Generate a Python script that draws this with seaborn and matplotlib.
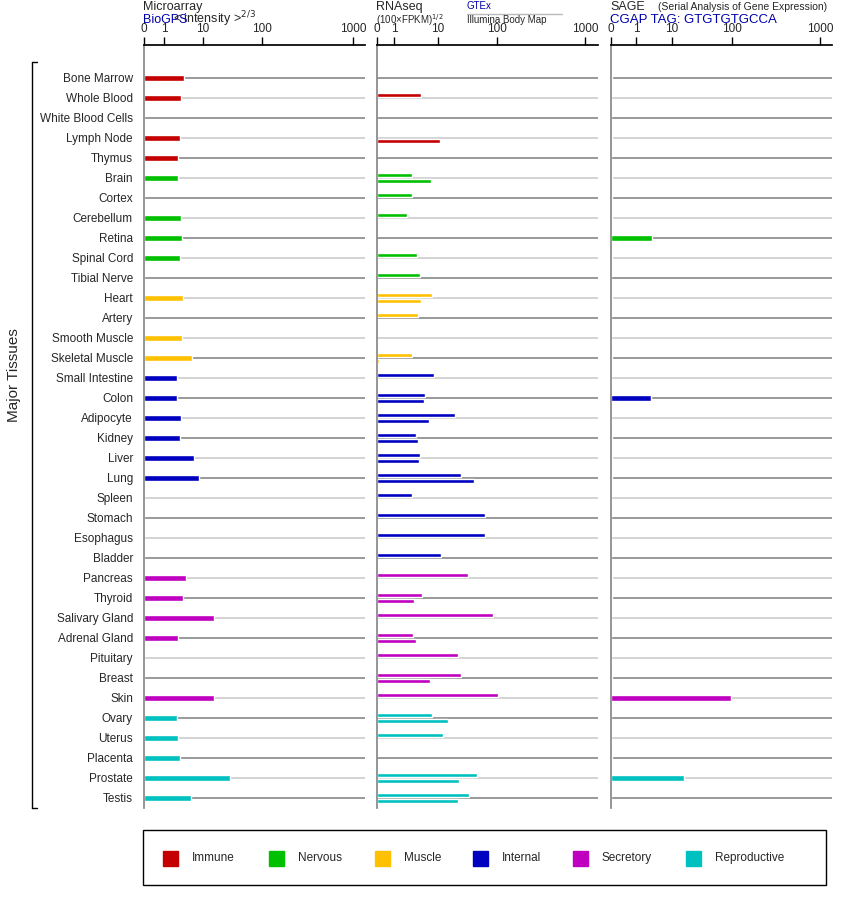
import numpy as np
import matplotlib
matplotlib.use("Agg")
import matplotlib.pyplot as plt
import seaborn as sns

tissues = ["Bone Marrow","Whole Blood","White Blood Cells","Lymph Node","Thymus",
           "Brain","Cortex","Cerebellum","Retina","Spinal Cord","Tibial Nerve",
           "Heart","Artery","Smooth Muscle","Skeletal Muscle",
           "Small Intestine","Colon","Adipocyte","Kidney","Liver","Lung","Spleen",
           "Stomach","Esophagus","Bladder",
           "Pancreas","Thyroid","Salivary Gland","Adrenal Gland","Pituitary","Breast","Skin",
           "Ovary","Uterus","Placenta","Prostate","Testis"]
groups = ["Immune"]*5 + ["Nervous"]*6 + ["Muscle"]*4 + ["Internal"]*10 + ["Secretory"]*7 + ["Reproductive"]*5
group_names = ["Immune","Nervous","Muscle","Internal","Secretory","Reproductive"]
group_colors = ["#C40000","#00C000","#FFC000","#0000C0","#C000C0","#00C0C0"]

microarray = [3.3,2.7,0,2.6,2.3, 2.3,0,2.7,2.9,2.6,0, 3.1,0,2.9,5.2,
              2.2,2.2,2.7,2.6,5.9,7.9,0,0,0,0,
              3.7,3.1,15.4,2.3,0,0,15.4, 2.2,2.3,2.6,28.7,4.9]
gtex = [0,4.1,0,0,0, 2.6,2.6,2.0,0,3.3,3.9, 7.3,3.5,0,2.6,
        8.1,5.1,19.4,3.2,3.9,24.5,2.6,62.7,62.7,11.2,
        32.2,4.3,85.5,2.7,21.8,24.5,103, 7.3,12.2,0,45.8,33.5]
illumina = [0,0,0.06,10.8,0, 6.9,0,0,0,0,0, 4.1,0,0,0.12,
            0,4.8,6.2,3.5,3.7,40.7,0,0,0,0,
            0,2.8,0,3.2,0,6.6,0, 14.8,0,0,22.7,21.8]
sage = [0.05,0,0,0.05,0, 0.05,0.05,0.05,2.8,0.05,0, 0.05,0,0,0.05,
        0,2.6,0,0.05,0.05,0.05,0,0,0,0,
        0.05,0.05,0,0,0,0.05,96, 0,0,0.05,15.8,0]
tick_vals = [0, 1, 10, 100, 1000]

def make_scale(p):
    def f(v):
        v = np.asarray(v, float)
        out = np.where(v < 1, v * p[1], 0.0)
        lg = np.log10(np.maximum(v, 1))
        hi = np.interp(lg, [0, 1, 2, 3], p[1:])
        return np.where(v < 1, out, hi)
    return f

sns.set_theme(style="white", rc={"font.family": "Liberation Sans"})
W, H = 842, 900
fig = plt.figure(figsize=(W/100, H/100), dpi=100)
color_of = dict(zip(group_names, group_colors))
cols = [color_of[g] for g in groups]
n = len(tissues)
rows = np.arange(n)

panels = [(144, make_scale([0, 20, 59, 118, 209])),
          (377, make_scale([0, 17, 61, 120, 208])),
          (611, make_scale([0, 25, 61, 121, 209]))]
axes = []
for x0, f in panels:
    ax = fig.add_axes([x0/W, 1-808/H, 221/W, (808-45)/H])
    ax.set_xlim(0, 221)
    ax.set_ylim(36.5, -1.65)
    for i in rows:
        ax.axhline(i, color="#888888" if i % 2 == 0 else "#cccccc", lw=1.2, zorder=0)
    ax.xaxis.tick_top()
    ax.set_xticks(f(tick_vals))
    ax.set_xticklabels([str(t) for t in tick_vals], fontsize=8.5)
    ax.tick_params(axis="x", direction="out", length=6, width=1, color="black", pad=1)
    ax.set_yticks([])
    for s in ["right", "bottom"]:
        ax.spines[s].set_visible(False)
    ax.spines["top"].set_color("black")
    ax.spines["left"].set_color("#888888")
    axes.append((ax, f))

ax, f = axes[0]
ax.barh(rows, f(microarray), height=0.3, color=cols, zorder=2)
ax.set_yticks(rows)
ax.set_yticklabels(tissues, fontsize=8.5)
ax.tick_params(axis="y", length=0, pad=8)
ax, f = axes[1]
ax.barh(rows - 0.17, f(gtex), height=0.2, color=cols, zorder=2)
ax.barh(rows + 0.17, f(illumina), height=0.2, color=cols, zorder=2)
ax, f = axes[2]
ax.barh(rows, f(sage), height=0.32, color=cols, zorder=2)

def T(x, y, s, **kw):
    fig.text(x/W, 1-y/H, s, va="center", **kw)
blue = "#0000AA"
T(143, 7, "Microarray", fontsize=9)
T(143, 20, "BioGPS", fontsize=9, color=blue)
T(173, 19, r"< intensity >$^{2/3}$", fontsize=9)
T(376, 7, "RNAseq", fontsize=9)
T(376, 20, r"(100×FPKM)$^{1/2}$", fontsize=7)
T(467, 6, "GTEx", fontsize=7, color=blue)
fig.add_artist(plt.Line2D([467/W, 562/W], [1-14/H, 1-14/H], color="#bbbbbb", lw=1))
T(467, 20, "Illumina Body Map", fontsize=7)
T(610, 7, "SAGE", fontsize=9)
T(658, 7, "(Serial Analysis of Gene Expression)", fontsize=7.5)
T(610, 20, "CGAP TAG: GTGTGTGCCA", fontsize=9.5, color=blue)

# bracket
for xs, ys in [([37, 32], [62, 62]), ([32, 32], [62, 808]), ([32, 37], [808, 808])]:
    fig.add_artist(plt.Line2D(np.array(xs)/W, 1-np.array(ys)/H, color="black", lw=1))
fig.text(14/W, 1-375/H, "Major Tissues", rotation=90, fontsize=11, va="center", ha="center")

# legend box
fig.add_artist(plt.Rectangle((143/W, 1-885/H), 683/W, 55/H, fill=False, ec="black", lw=1))
lx = [163, 269, 375, 473, 573, 686]
for x, name, c in zip(lx, group_names, group_colors):
    fig.add_artist(plt.Rectangle((x/W, 1-866/H), 15/W, 15/H, color=c))
    T(x + 29, 858, name, fontsize=8.5)

fig.savefig("out.png", dpi=100)
